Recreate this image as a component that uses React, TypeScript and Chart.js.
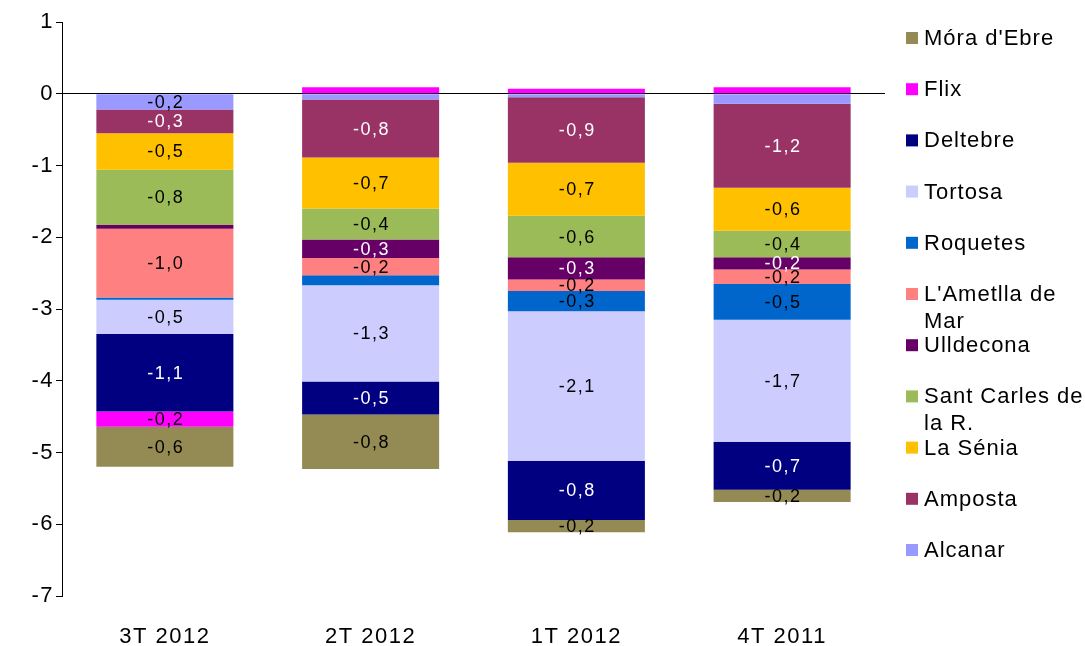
import { useEffect, useRef } from "react";
import { Chart, registerables } from "chart.js";

Chart.register(...registerables);

// ---- Data ----
const categories = ["3T 2012", "2T 2012", "1T 2012", "4T 2011"];

const alcanar = [-0.22, -0.08, -0.05, -0.14];
const amposta = [-0.33, -0.81, -0.91, -1.17];
const laSenia = [-0.51, -0.71, -0.74, -0.6];
const santCarles = [-0.77, -0.43, -0.58, -0.37];
const ulldecona = [-0.05, -0.26, -0.31, -0.17];
const ametlla = [-0.96, -0.24, -0.16, -0.2];
const roquetes = [-0.03, -0.14, -0.28, -0.5];
const tortosa = [-0.48, -1.34, -2.09, -1.7];
const deltebre = [-1.08, -0.46, -0.82, -0.67];
const flix = [-0.21, 0.09, 0.07, 0.09];
const moraEbre = [-0.56, -0.76, -0.17, -0.17];

const seriesNames = [
  "Alcanar",
  "Amposta",
  "La Sénia",
  "Sant Carles de la R.",
  "Ulldecona",
  "L'Ametlla de Mar",
  "Roquetes",
  "Tortosa",
  "Deltebre",
  "Flix",
  "Móra d'Ebre",
];
const seriesValues = [
  alcanar,
  amposta,
  laSenia,
  santCarles,
  ulldecona,
  ametlla,
  roquetes,
  tortosa,
  deltebre,
  flix,
  moraEbre,
];
const seriesColors = [
  "#9999FF",
  "#993366",
  "#FFC000",
  "#9BBB59",
  "#660066",
  "#FF8080",
  "#0066CC",
  "#CCCCFF",
  "#000080",
  "#FF00FF",
  "#948A54",
];
const labelColors = [
  "#000000",
  "#FFFFFF",
  "#000000",
  "#000000",
  "#FFFFFF",
  "#000000",
  "#000000",
  "#000000",
  "#FFFFFF",
  "#000000",
  "#000000",
];

const yMin = -7;
const yMax = 1;
const labelThreshold = 0.15;
const FONT = "'Liberation Sans', Arial, sans-serif";

const spacingPlugin = {
  id: "spacing",
  beforeDraw(chart: any) {
    (chart.ctx as any).letterSpacing = "1.5px";
  },
};

const dataLabelPlugin = {
  id: "dataLabels",
  afterDatasetsDraw(chart: any) {
    const ctx = chart.ctx;
    ctx.save();
    (ctx as any).letterSpacing = "1.5px";
    ctx.font = `18px ${FONT}`;
    ctx.textAlign = "center";
    ctx.textBaseline = "middle";
    chart.data.datasets.forEach((ds: any, di: number) => {
      const meta = chart.getDatasetMeta(di);
      meta.data.forEach((el: any, i: number) => {
        const v = ds.data[i];
        if (Math.abs(v) < labelThreshold) return;
        const txt = v.toFixed(1).replace(".", ",");
        ctx.fillStyle = labelColors[di];
        ctx.fillText(txt, el.x + 1, (el.y + el.base) / 2 + 1);
      });
    });
    ctx.restore();
  },
};

const legendPlugin = {
  id: "sideLegend",
  afterDraw(chart: any) {
    const ctx = chart.ctx;
    ctx.save();
    (ctx as any).letterSpacing = "1px";
    ctx.font = `22px ${FONT}`;
    ctx.textAlign = "left";
    ctx.textBaseline = "middle";
    const x0 = 906;
    const tx = 924;
    const top = 38;
    const step = 51.2;
    const maxW = 166;
    const n = seriesNames.length;
    for (let k = 0; k < n; k++) {
      const di = n - 1 - k;
      const y = top + step * k;
      ctx.fillStyle = seriesColors[di];
      ctx.fillRect(x0, y - 6, 12, 12);
      const words = seriesNames[di].split(" ");
      const lines: string[] = [];
      let cur = "";
      for (const w of words) {
        const t = cur ? cur + " " + w : w;
        if (ctx.measureText(t).width > maxW && cur) {
          lines.push(cur);
          cur = w;
        } else cur = t;
      }
      if (cur) lines.push(cur);
      ctx.fillStyle = "#000000";
      lines.forEach((ln, li) => ctx.fillText(ln, tx, y + 1 + li * 27));
    }
    ctx.restore();
  },
};

export default function App() {
  const ref = useRef<HTMLCanvasElement>(null);

  useEffect(() => {
    if (!ref.current) return;
    const chart = new Chart(ref.current, {
      type: "bar",
      data: {
        labels: categories,
        datasets: seriesValues.map((vals, i) => ({
          label: seriesNames[i],
          data: vals,
          backgroundColor: seriesColors[i],
          borderWidth: 0,
          categoryPercentage: 1,
          barPercentage: 0.666,
          stack: "s",
        })),
      },
      options: {
        animation: false,
        responsive: false,
        layout: { padding: { top: 22, right: 200, left: 0, bottom: 0 } },
        plugins: {
          legend: { display: false },
          tooltip: { enabled: false },
        },
        scales: {
          x: {
            stacked: true,
            grid: { display: false, drawTicks: false },
            border: { display: false },
            ticks: {
              color: "#000000",
              font: { family: FONT, size: 22 },
              padding: 28,
            },
            afterFit(scale: any) {
              scale.height = 50;
            },
          },
          y: {
            stacked: true,
            min: yMin,
            max: yMax,
            grid: {
              color: (c: any) => (c.tick && c.tick.value === 0 ? "#000000" : "rgba(0,0,0,0)"),
              tickColor: "#000000",
              tickLength: 6,
              lineWidth: 1,
            },
            border: { display: true, color: "#000000", width: 1 },
            ticks: {
              stepSize: 1,
              color: "#000000",
              font: { family: FONT, size: 22 },
              padding: 2,
              callback: (v: any) => String(v),
            },
            afterFit(scale: any) {
              scale.width = 62;
            },
          },
        },
      },
      plugins: [spacingPlugin, dataLabelPlugin, legendPlugin],
    });
    return () => chart.destroy();
  }, []);

  return (
    <div style={{ position: "fixed", left: 0, top: 0, width: 1085, height: 646, background: "#fff" }}>
      <canvas ref={ref} width={1085} height={646} style={{ display: "block" }} />
    </div>
  );
}
